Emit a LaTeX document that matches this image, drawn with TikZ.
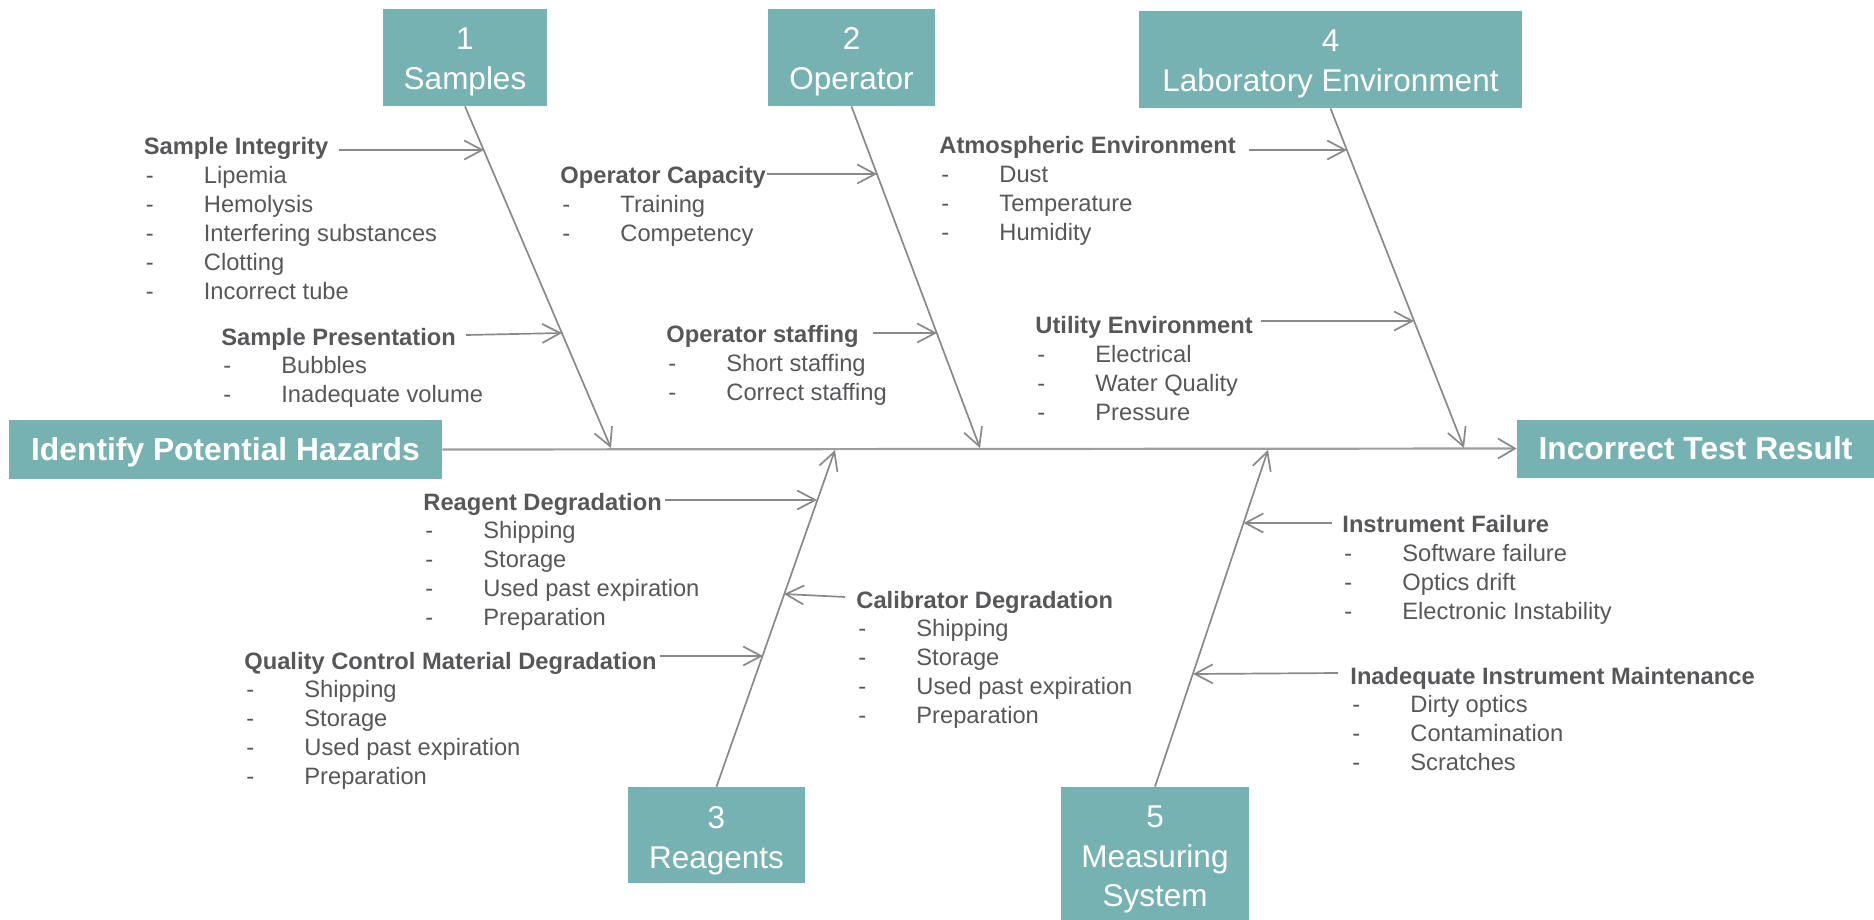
\documentclass[tikz,border=0pt]{standalone}
\usepackage{fontspec}
\setmainfont{Liberation Sans}
\usetikzlibrary{arrows.meta,calc}
\definecolor{teal1}{RGB}{118,178,177}
\definecolor{txt}{RGB}{87,87,90}
\definecolor{ln}{RGB}{137,137,137}
\definecolor{spn}{RGB}{158,158,158}
\newcommand{\itm}[1]{\hspace*{1pt}\makebox[29pt][l]{-}#1}
\newcommand{\hd}[1]{\textbf{#1}}
\newcommand{\bx}[2][2pt]{\raisebox{-#1}[\height][\depth]{\begin{tabular}{@{}c@{}}#2\end{tabular}}}
\begin{document}
\begin{tikzpicture}[x=0.5pt,y=-0.5pt,
  box/.style={fill=teal1, text=white, inner sep=0pt, font=\fontsize{15.75pt}{19.7pt}\selectfont},
  title/.style={fill=teal1, text=white, inner sep=0pt, text height=11.4pt, text depth=0pt, font=\bfseries\fontsize{15.9pt}{19pt}\selectfont},
  grp/.style={inner sep=0pt, anchor=base west, text=txt, font=\fontsize{11.85pt}{14.42pt}\selectfont},
  con/.style={draw=ln, line width=0.85pt, -{Straight Barb[length=9pt,width=9.5pt]}},
  spine/.style={draw=spn, line width=1.1pt, -{Straight Barb[length=8.5pt,width=10pt,color=ln,line width=0.85pt]}},
]
\useasboundingbox (0,0) rectangle (1874,920);

% head and tail
\node[title, minimum width=216.5pt, minimum height=29.5pt] (start) at (225.5,449.5) {Identify Potential Hazards};
\node[title, minimum width=178.5pt, minimum height=29pt] (end) at (1695.5,448.5) {Incorrect Test Result};

% category boxes
\node[box, minimum width=82pt, minimum height=48.5pt] (c1) at (465,57.5) {\bx{1\\Samples}};
\node[box, minimum width=83.5pt, minimum height=48.5pt] (c2) at (851.5,57.5) {\bx{2\\Operator}};
\node[box, minimum width=191.5pt, minimum height=48.5pt] (c4) at (1330.5,59.5) {\bx{4\\Laboratory Environment}};
\node[box, minimum width=88.5pt, minimum height=48pt] (c3) at (716.5,835) {\bx[2.8pt]{3\\Reagents}};
\node[box, minimum width=94pt, minimum height=66.5pt] (c5) at (1155,853.5) {\bx[3pt]{5\\Measuring\\System}};

% spine
\draw[spine] (start.east) -- (end.west);

% bones
\coordinate (s1) at (611,448);
\coordinate (s2) at (980,448);
\coordinate (s4) at (1464,448);
\coordinate (s3) at (835,450);
\coordinate (s5) at (1268,450);
\draw[con] (c1.south) -- (s1);
\draw[con] (c2.south) -- (s2);
\draw[con] (c4.south) -- (s4);
\draw[con] (c3.north) -- (s3);
\draw[con] (c5.north) -- (s5);

% cause groups
\node[grp] (g1) at (143.5,155) {\begin{tabular}[t]{@{}l@{}}\hd{Sample Integrity}\\ \itm{Lipemia}\\ \itm{Hemolysis}\\ \itm{Interfering substances}\\ \itm{Clotting}\\ \itm{Incorrect tube}\end{tabular}};
\node[grp] (g2) at (221,345) {\begin{tabular}[t]{@{}l@{}}\hd{Sample Presentation}\\ \itm{Bubbles}\\ \itm{Inadequate volume}\end{tabular}};
\node[grp] (g3) at (560,184) {\begin{tabular}[t]{@{}l@{}}\hd{Operator Capacity}\\ \itm{Training}\\ \itm{Competency}\end{tabular}};
\node[grp] (g4) at (666,342.5) {\begin{tabular}[t]{@{}l@{}}\hd{Operator staffing}\\ \itm{Short staffing}\\ \itm{Correct staffing}\end{tabular}};
\node[grp] (g5) at (939,154) {\begin{tabular}[t]{@{}l@{}}\hd{Atmospheric Environment}\\ \itm{Dust}\\ \itm{Temperature}\\ \itm{Humidity}\end{tabular}};
\node[grp] (g6) at (1035,333.5) {\begin{tabular}[t]{@{}l@{}}\hd{Utility Environment}\\ \itm{Electrical}\\ \itm{Water Quality}\\ \itm{Pressure}\end{tabular}};
\node[grp] (g7) at (423,510) {\begin{tabular}[t]{@{}l@{}}\hd{Reagent Degradation}\\ \itm{Shipping}\\ \itm{Storage}\\ \itm{Used past expiration}\\ \itm{Preparation}\end{tabular}};
\node[grp] (g8) at (244,669) {\begin{tabular}[t]{@{}l@{}}\hd{Quality Control Material Degradation}\\ \itm{Shipping}\\ \itm{Storage}\\ \itm{Used past expiration}\\ \itm{Preparation}\end{tabular}};
\node[grp] (g9) at (856,608) {\begin{tabular}[t]{@{}l@{}}\hd{Calibrator Degradation}\\ \itm{Shipping}\\ \itm{Storage}\\ \itm{Used past expiration}\\ \itm{Preparation}\end{tabular}};
\node[grp] (g10) at (1342,532.5) {\begin{tabular}[t]{@{}l@{}}\hd{Instrument Failure}\\ \itm{Software failure}\\ \itm{Optics drift}\\ \itm{Electronic Instability}\end{tabular}};
\node[grp] (g11) at (1350,684) {\begin{tabular}[t]{@{}l@{}}\hd{Inadequate Instrument Maintenance}\\ \itm{Dirty optics}\\ \itm{Contamination}\\ \itm{Scratches}\end{tabular}};

% branch arrows
\coordinate (a1s) at (339,150);   \coordinate (a1e) at (484,150);
\coordinate (a2s) at (466,335);   \coordinate (a2e) at (562,333);
\coordinate (a3s) at (767,174);   \coordinate (a3e) at (877,174);
\coordinate (a4s) at (873,333);   \coordinate (a4e) at (937,333);
\coordinate (a5s) at (1249,150);  \coordinate (a5e) at (1347,150);
\coordinate (a6s) at (1261,321);  \coordinate (a6e) at (1414,321);
\coordinate (a7s) at (665,500);   \coordinate (a7e) at (817,500);
\coordinate (a8s) at (660,656);   \coordinate (a8e) at (763,656);
\coordinate (a9s) at (845,597);   \coordinate (a9e) at (784,594);
\coordinate (a10s) at (1332,523); \coordinate (a10e) at (1243.5,523);
\coordinate (a11s) at (1338,673); \coordinate (a11e) at (1193,674);
\foreach \i in {1,...,11} {\draw[con] (a\i s) -- (a\i e);}
\end{tikzpicture}
\end{document}
